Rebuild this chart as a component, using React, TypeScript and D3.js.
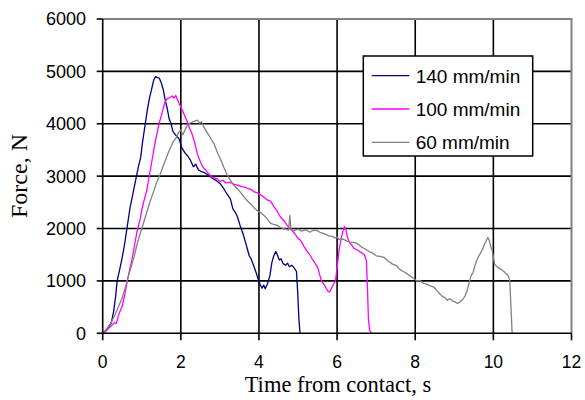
import * as d3 from 'd3';

// time (s) and force (N)
const t140 = [0, 0.08, 0.15, 0.22, 0.28, 0.33, 0.37, 0.43, 0.5, 0.56, 0.62, 0.7, 0.77, 0.85, 0.92, 0.97, 1.02, 1.08, 1.15, 1.2, 1.25, 1.3, 1.35, 1.4, 1.45, 1.5, 1.55, 1.6, 1.65, 1.7, 1.75, 1.8, 1.87, 1.95, 2.02, 2.1, 2.18, 2.25, 2.32, 2.38, 2.45, 2.55, 2.64, 2.72, 2.8, 2.9, 3.0, 3.1, 3.19, 3.27, 3.33, 3.4, 3.45, 3.52, 3.6, 3.67, 3.75, 3.8, 3.87, 3.93, 3.98, 4.03, 4.08, 4.12, 4.16, 4.22, 4.28, 4.33, 4.38, 4.43, 4.48, 4.52, 4.57, 4.62, 4.68, 4.73, 4.78, 4.84, 4.9, 4.96, 4.99, 5.02, 5.05];
const f140 = [0, 40, 120, 200, 420, 700, 1000, 1200, 1450, 1700, 2000, 2400, 2650, 2950, 3200, 3350, 3650, 3950, 4300, 4500, 4650, 4820, 4900, 4880, 4870, 4780, 4650, 4450, 4300, 4100, 4000, 3850, 3780, 3720, 3550, 3450, 3380, 3300, 3180, 3230, 3120, 3080, 3050, 3010, 2960, 2920, 2860, 2760, 2650, 2560, 2380, 2300, 2220, 2050, 1880, 1700, 1480, 1420, 1280, 1150, 1030, 930, 860, 920, 850, 950, 1100, 1350, 1480, 1560, 1480, 1400, 1420, 1330, 1300, 1340, 1270, 1300, 1250, 1180, 800, 300, 0];

const t100 = [0, 0.1, 0.2, 0.3, 0.35, 0.42, 0.5, 0.57, 0.63, 0.7, 0.76, 0.82, 0.88, 0.95, 1.0, 1.06, 1.12, 1.18, 1.23, 1.28, 1.33, 1.38, 1.44, 1.5, 1.55, 1.6, 1.65, 1.72, 1.78, 1.82, 1.87, 1.92, 1.96, 2.0, 2.05, 2.1, 2.17, 2.22, 2.28, 2.34, 2.38, 2.42, 2.47, 2.53, 2.58, 2.64, 2.72, 2.8, 2.87, 2.93, 3.0, 3.08, 3.15, 3.25, 3.36, 3.45, 3.55, 3.65, 3.72, 3.79, 3.88, 3.97, 4.05, 4.13, 4.2, 4.3, 4.38, 4.45, 4.55, 4.64, 4.72, 4.81, 4.9, 4.98, 5.07, 5.15, 5.22, 5.3, 5.38, 5.45, 5.5, 5.55, 5.6, 5.66, 5.72, 5.77, 5.81, 5.86, 5.91, 5.96, 6.0, 6.05, 6.1, 6.15, 6.19, 6.23, 6.27, 6.32, 6.38, 6.43, 6.5, 6.58, 6.65, 6.7, 6.75, 6.78, 6.8, 6.83, 6.88];
const f100 = [0, 60, 130, 200, 190, 380, 520, 760, 1000, 1250, 1450, 1700, 1950, 2150, 2350, 2540, 2700, 2950, 3170, 3380, 3600, 3780, 4000, 4150, 4300, 4420, 4480, 4500, 4530, 4490, 4540, 4450, 4380, 4320, 4240, 4150, 4030, 3920, 3820, 3680, 3560, 3430, 3330, 3220, 3160, 3110, 3040, 2980, 2960, 2950, 2900, 2920, 2870, 2880, 2850, 2830, 2800, 2790, 2760, 2750, 2700, 2680, 2640, 2600, 2550, 2520, 2420, 2350, 2220, 2150, 2060, 1990, 1920, 1830, 1770, 1660, 1580, 1500, 1400, 1320, 1260, 1130, 1000, 940, 860, 800, 790, 870, 940, 1010, 1250, 1580, 1800, 1950, 2040, 1960, 1820, 1730, 1680, 1620, 1600, 1560, 1530, 1500, 1380, 800, 300, 60, 0];

const t60 = [0, 0.1, 0.2, 0.3, 0.4, 0.5, 0.57, 0.63, 0.7, 0.8, 0.88, 0.96, 1.05, 1.14, 1.22, 1.3, 1.38, 1.48, 1.55, 1.62, 1.68, 1.74, 1.8, 1.87, 1.95, 2.0, 2.05, 2.1, 2.15, 2.21, 2.28, 2.35, 2.42, 2.48, 2.53, 2.59, 2.65, 2.72, 2.78, 2.85, 2.92, 2.98, 3.04, 3.1, 3.17, 3.22, 3.27, 3.35, 3.45, 3.55, 3.62, 3.7, 3.79, 3.88, 3.96, 4.05, 4.13, 4.22, 4.3, 4.38, 4.47, 4.55, 4.62, 4.7, 4.76, 4.79, 4.82, 4.9, 5.0, 5.1, 5.2, 5.3, 5.4, 5.49, 5.58, 5.68, 5.78, 5.88, 5.95, 6.0, 6.05, 6.15, 6.25, 6.35, 6.45, 6.52, 6.62, 6.72, 6.82, 6.92, 7.0, 7.1, 7.2, 7.3, 7.42, 7.52, 7.62, 7.72, 7.82, 7.9, 7.97, 8.05, 8.12, 8.2, 8.3, 8.4, 8.48, 8.55, 8.62, 8.7, 8.76, 8.82, 8.88, 8.95, 9.02, 9.08, 9.15, 9.22, 9.28, 9.33, 9.38, 9.43, 9.48, 9.53, 9.58, 9.63, 9.67, 9.72, 9.77, 9.82, 9.86, 9.9, 9.93, 9.97, 10.0, 10.03, 10.08, 10.13, 10.2, 10.27, 10.32, 10.38, 10.42, 10.45, 10.48];
const f60 = [0, 80, 190, 330, 500, 680, 850, 1010, 1200, 1450, 1700, 1900, 2120, 2340, 2530, 2700, 2880, 3050, 3200, 3330, 3450, 3550, 3650, 3720, 3840, 3880, 3790, 3870, 3950, 4000, 4030, 4050, 4070, 4010, 4040, 3940, 3860, 3780, 3700, 3620, 3480, 3380, 3280, 3170, 3050, 2980, 2920, 2830, 2760, 2670, 2600, 2530, 2470, 2390, 2340, 2300, 2250, 2170, 2100, 2080, 2060, 2020, 2000, 1990, 1970, 2250, 1980, 1960, 1990, 1950, 1980, 1930, 1970, 1960, 1920, 1900, 1860, 1850, 1820, 1840, 1790, 1800, 1760, 1740, 1730, 1710, 1650, 1610, 1560, 1530, 1480, 1470, 1450, 1380, 1320, 1290, 1210, 1170, 1120, 1080, 1040, 1000, 1010, 960, 940, 900, 880, 820, 760, 700, 680, 630, 660, 620, 600, 570, 600, 650, 720, 820, 960, 1100, 1160, 1300, 1400, 1480, 1530, 1600, 1700, 1770, 1830, 1760, 1660, 1580, 1450, 1320, 1280, 1250, 1220, 1180, 1140, 1100, 1010, 500, 0];

const seriesNames = ['140 mm/min', '100 mm/min', '60 mm/min'];
const seriesColors = ['#000080', '#ff00ff', '#808080'];
const xTicks = [0, 2, 4, 6, 8, 10, 12];
const yTicks = [0, 1000, 2000, 3000, 4000, 5000, 6000];

const W = 585;
const H = 400;
const plot = { left: 102.7, right: 571.5, top: 19, bottom: 333.3 };
const sansFont = '"Liberation Sans", Arial, sans-serif';
const serifFont = '"Liberation Serif", "Times New Roman", serif';

export default function App() {
    const x = d3.scaleLinear().domain([0, 12]).range([plot.left, plot.right]);
    const y = d3.scaleLinear().domain([0, 6000]).range([plot.bottom, plot.top]);

    const line = d3.line<[number, number]>()
        .x((d) => x(d[0]))
        .y((d) => y(d[1]));

    const series = [
        d3.zip(t140, f140) as [number, number][],
        d3.zip(t100, f100) as [number, number][],
        d3.zip(t60, f60) as [number, number][],
    ];

    return (
        <svg width={W} height={H} style={{ position: 'absolute', left: 0, top: 0, background: '#fff' }}>
            {/* grid */}
            {yTicks.filter((v) => v > 0 && v < 6000).map((v) => (
                <line key={'gy' + v} x1={plot.left} x2={plot.right} y1={y(v)} y2={y(v)} stroke="#000" strokeWidth={1.6} />
            ))}
            {xTicks.filter((v) => v > 0 && v < 12).map((v) => (
                <line key={'gx' + v} x1={x(v)} x2={x(v)} y1={plot.top} y2={plot.bottom} stroke="#000" strokeWidth={1.6} />
            ))}
            {/* plot border top/right */}
            <path d={`M${plot.left},${plot.top}H${plot.right}V${plot.bottom}`} fill="none" stroke="#808080" strokeWidth={2} />

            {/* data */}
            {series.map((s, i) => (
                <path key={i} d={line(s) ?? ''} fill="none" stroke={seriesColors[i]} strokeWidth={1.3} strokeLinejoin="round" />
            ))}

            {/* axes */}
            <line x1={plot.left} x2={plot.left} y1={plot.top} y2={plot.bottom} stroke="#000" strokeWidth={1.6} />
            <line x1={plot.left} x2={plot.right} y1={plot.bottom} y2={plot.bottom} stroke="#000" strokeWidth={1.6} />
            {yTicks.map((v) => (
                <g key={'ty' + v}>
                    <line x1={plot.left - 6} x2={plot.left} y1={y(v)} y2={y(v)} stroke="#000" strokeWidth={1.6} />
                    <text x={86} y={y(v)} dy="0.36em" textAnchor="end" fontFamily={sansFont} fontSize={18}>{v}</text>
                </g>
            ))}
            {xTicks.map((v) => (
                <g key={'tx' + v}>
                    <line x1={x(v)} x2={x(v)} y1={plot.bottom} y2={plot.bottom + 7} stroke="#000" strokeWidth={1.6} />
                    <text x={x(v)} y={368} textAnchor="middle" fontFamily={sansFont} fontSize={17.5}>{v}</text>
                </g>
            ))}

            {/* axis titles */}
            <text x={338} y={392} textAnchor="middle" fontFamily={serifFont} fontSize={22.5}>Time from contact, s</text>
            <text transform="translate(27,176) rotate(-90)" textAnchor="middle" fontFamily={serifFont} fontSize={24}>Force, N</text>

            {/* legend */}
            <rect x={363.3} y={56} width={169.4} height={100} fill="#fff" stroke="#000" strokeWidth={1.5} />
            {seriesNames.map((name, i) => (
                <g key={name} transform={`translate(0, ${75.7 + i * 33.3})`}>
                    <line x1={371.7} x2={409.3} y1={0} y2={0} stroke={seriesColors[i]} strokeWidth={1.3} />
                    <text x={415.7} y={0} dy="0.36em" fontFamily={sansFont} fontSize={19}>{name}</text>
                </g>
            ))}
        </svg>
    );
}
